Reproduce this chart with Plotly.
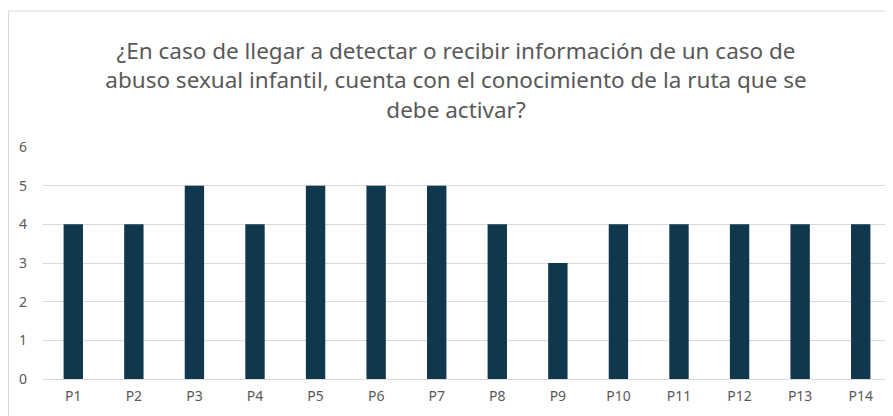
import plotly.graph_objects as go

categories = ["P1", "P2", "P3", "P4", "P5", "P6", "P7",
              "P8", "P9", "P10", "P11", "P12", "P13", "P14"]
values = [4, 4, 5, 4, 5, 5, 5, 4, 3, 4, 4, 4, 4, 4]

TITLE = ("¿En caso de llegar a detectar o recibir información de un caso de<br>"
         "abuso sexual infantil, cuenta con el conocimiento de la ruta que se<br>"
         "debe activar?")

fig = go.Figure(go.Bar(
    x=categories, y=values,
    marker=dict(color="#0f384f", line=dict(width=0)),
    width=0.32,
))

# page body has an 8px margin, so the figure is sized/offset to compensate
fig.update_layout(
    width=885, height=408,
    paper_bgcolor="white", plot_bgcolor="white",
    margin=dict(l=35, r=2, t=139, b=37),
    font=dict(family="Noto Sans, Lato, sans-serif", color="#595959"),
    title=dict(
        text=TITLE, x=448 / 885, xanchor="center", xref="container",
        y=1 - 51 / 408, yanchor="middle", yref="container",
        font=dict(size=22.5, color="#595959"),
    ),
    showlegend=False,
)
fig.update_yaxes(range=[0, 6], dtick=1, showgrid=True, gridcolor="#d9d9d9",
                 gridwidth=1, zeroline=False, showline=False,
                 tickfont=dict(size=14, color="#595959"), ticklabelstandoff=15)
fig.update_xaxes(showline=True, linecolor="#d9d9d9", linewidth=1,
                 tickfont=dict(size=14, color="#595959"), ticklabelstandoff=4)

# outer chart border
fig.add_shape(type="rect", xref="paper", yref="paper",
              x0=-0.0407, x1=1.03, y0=-0.4, y1=1.586,
              line=dict(color="#d9d9d9", width=1), fillcolor="rgba(0,0,0,0)",
              layer="below")

fig.write_html("out.html")
